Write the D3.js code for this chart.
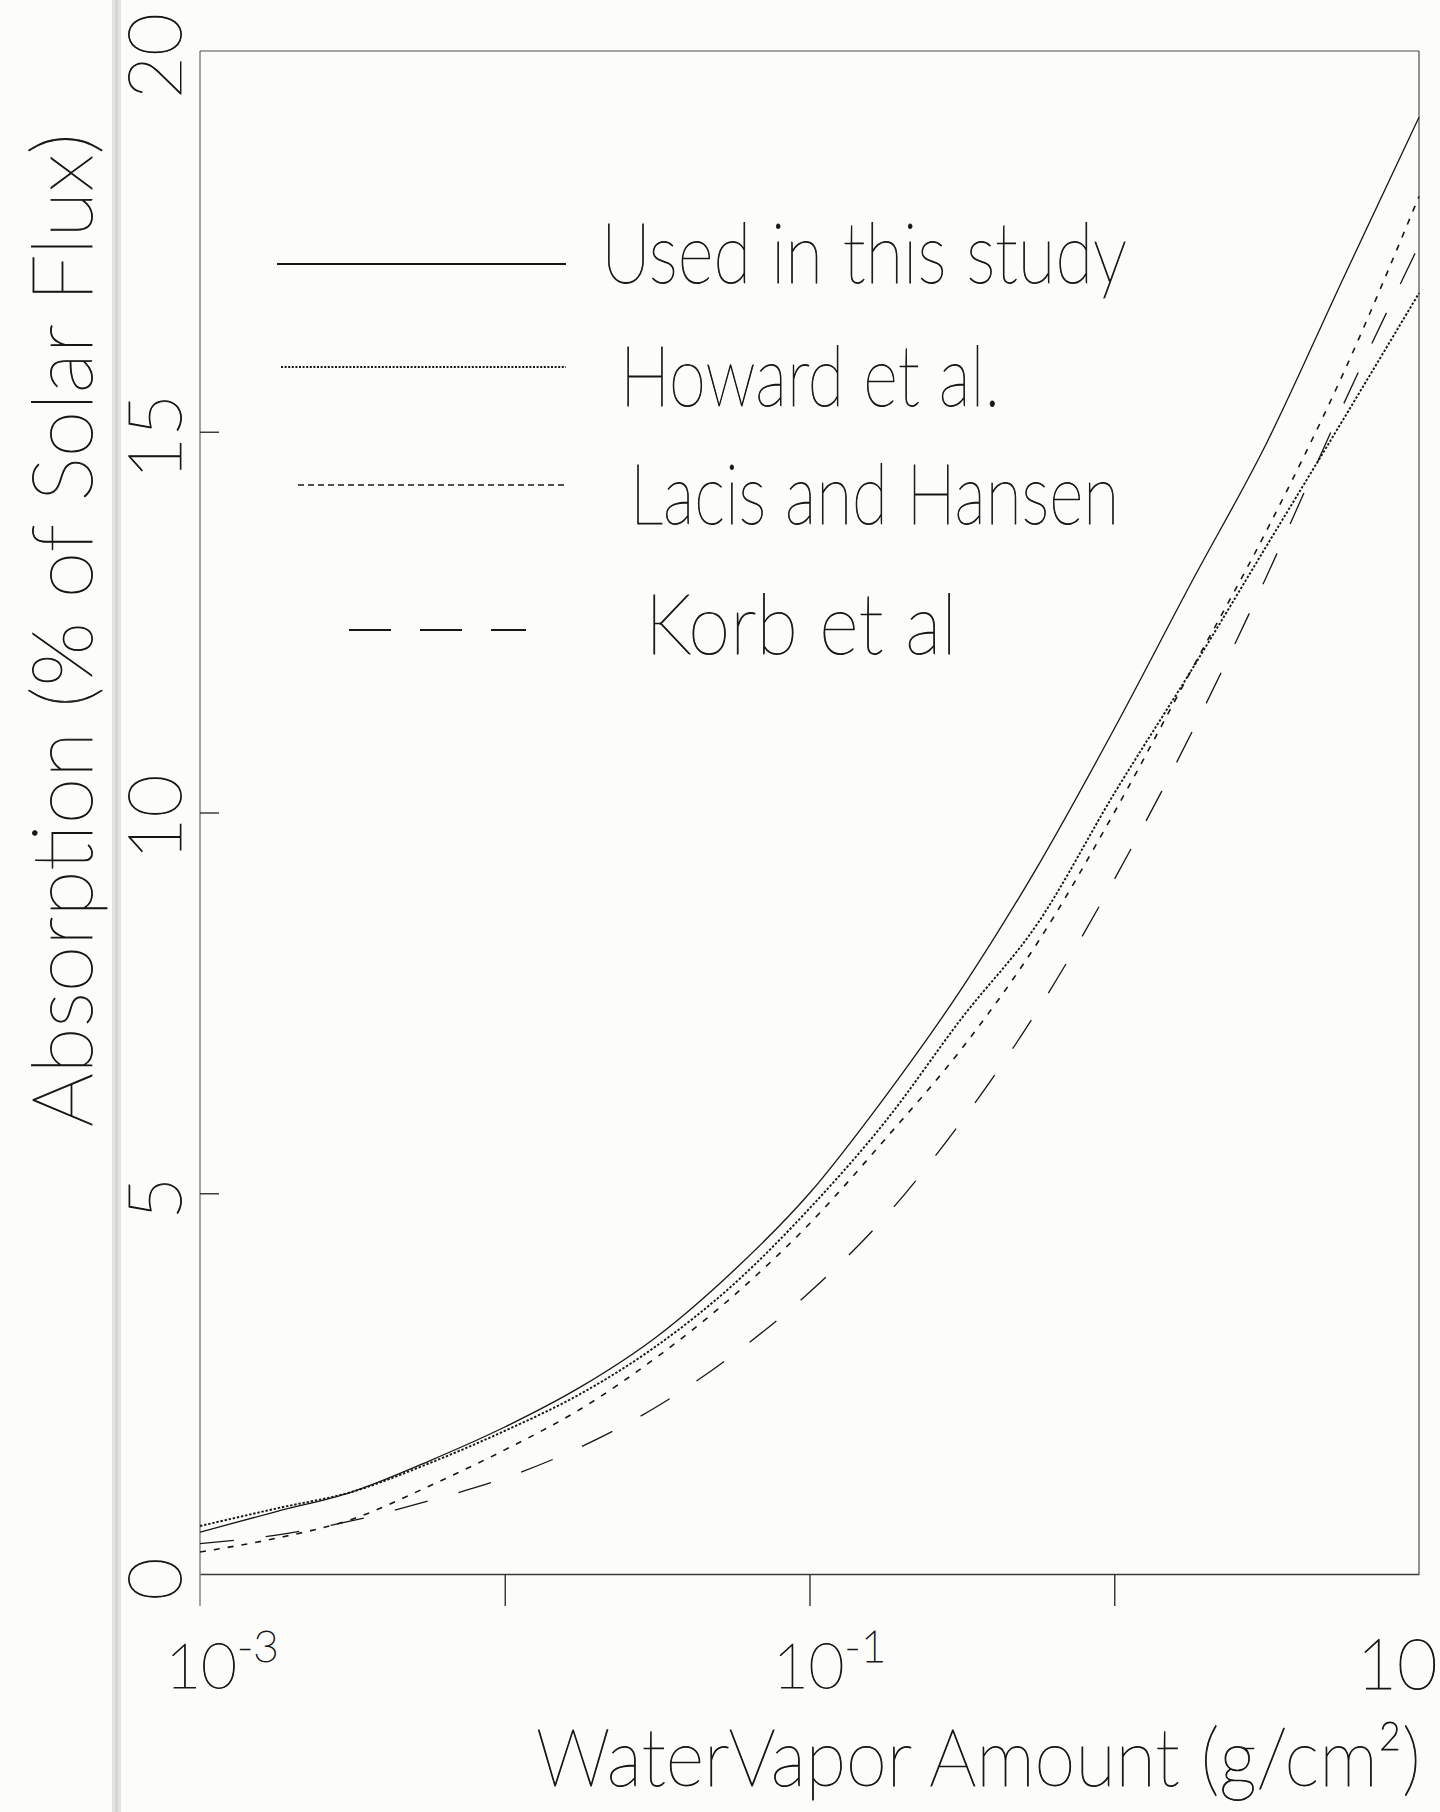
<!DOCTYPE html>
<html>
<head>
<meta charset="utf-8">
<script src="https://cdn.jsdelivr.net/npm/d3@7"></script>
<style>
  html, body { margin: 0; padding: 0; background: #fcfcfa; }
  svg { display: block; }
</style>
</head>
<body>
<svg id="chart" width="1440" height="1812"></svg>
<script>
// Water vapour path (g/cm^2), sampled every quarter decade
const waterVapor = [0.001, 0.00178, 0.00316, 0.00562, 0.01, 0.0178, 0.0316, 0.0562,
                    0.1, 0.178, 0.316, 0.562, 1, 1.78, 3.16, 5.62, 10];

// Absorption (% of solar flux) for each parameterisation
const usedInThisStudy = [0.55, 0.82, 1.08, 1.48, 1.93, 2.46, 3.12, 3.98, 5.0, 6.28, 7.69, 9.3, 11.1, 13.0, 14.85, 17.0, 19.13];
const howardEtAl      = [0.63, 0.86, 1.08, 1.45, 1.88, 2.37, 3.0, 3.8, 4.8, 5.95, 7.3, 8.55, 10.25, 11.85, 13.5, 15.15, 16.82];
const lacisHansen     = [0.29, 0.47, 0.72, 1.15, 1.63, 2.17, 2.85, 3.65, 4.6, 5.72, 6.9, 8.3, 10.0, 11.85, 13.7, 15.75, 18.09];
const korbEtAl        = [0.40, 0.51, 0.70, 0.96, 1.26, 1.67, 2.2, 2.88, 3.7, 4.7, 5.95, 7.41, 9.12, 11.02, 13.1, 15.34, 17.45];

const seriesNames = ["Used in this study", "Howard et al.", "Lacis and Hansen", "Korb et al"];
const seriesValues = [usedInThisStudy, howardEtAl, lacisHansen, korbEtAl];

const yTickValues = [0, 5, 10, 15, 20];
const xTickValues = [0.01, 0.1, 1];
const xLabelValues = [0.001, 0.1, 10];
const xLabelBases = ["10", "10", "10"];
const xLabelExponents = ["-3", "-1", ""];

const yTitle = "Absorption (% of Solar Flux)";
const xTitle = "WaterVapor Amount (g/cm\u00B2)";

// ---- layout ----
const W = 1440, H = 1812;
const plot = { left: 200, right: 1419, top: 51, bottom: 1574 };
const ink = "#161616";
const hand = "Lato, 'DejaVu Sans', sans-serif";

const svg = d3.select("#chart");

svg.append("rect").attr("width", W).attr("height", H).attr("fill", "#fcfcfa");
// binding fold on the scanned page
svg.append("rect").attr("x", 112).attr("y", 0).attr("width", 9).attr("height", H)
   .attr("fill", "#e3e3e1");
svg.append("rect").attr("x", 115).attr("y", 0).attr("width", 3).attr("height", H)
   .attr("fill", "#d6d6d4");

const x = d3.scaleLog().domain([1e-3, 10]).range([plot.left, plot.right]);
const y = d3.scaleLinear().domain([0, 20]).range([plot.bottom, plot.top]);

// pen-drawn lettering: thin face with a light outline
function pen(sel, size) {
  return sel.attr("font-family", hand).attr("font-weight", 200).attr("font-size", size)
    .attr("fill", ink).attr("stroke", ink).attr("stroke-width", 0.9);
}

// narrow handwriting: squeeze a text horizontally to a given run length
function squeeze(sel, placement, runLength) {
  sel.each(function (d, i) {
    const node = this;
    const natural = node.getComputedTextLength();
    const s = runLength(d, i) / natural;
    node.setAttribute("transform", `${placement(d, i)} scale(${s},1)`);
  });
  return sel;
}

// ---- frame ----
const frame = svg.append("g").attr("stroke", "#4a4a4a").attr("stroke-width", 1.2).attr("fill", "none");
frame.append("line").attr("x1", plot.left).attr("x2", plot.right).attr("y1", plot.top).attr("y2", plot.top);
frame.append("line").attr("x1", plot.right).attr("x2", plot.right).attr("y1", plot.top).attr("y2", plot.bottom);
frame.append("line").attr("x1", plot.left).attr("x2", plot.left).attr("y1", plot.top).attr("y2", plot.bottom + 32)
     .attr("stroke-width", 1);

// ---- axes ----
const xAxis = d3.axisBottom(x).tickValues(xTickValues).tickFormat("").tickSizeInner(32).tickSizeOuter(0);
const gx = svg.append("g").attr("transform", `translate(0,${plot.bottom})`).call(xAxis);
gx.select(".domain").attr("stroke", "#3a3a3a").attr("stroke-width", 1.6);
gx.selectAll(".tick line").attr("stroke", "#333").attr("stroke-width", 1.4);

const yAxis = d3.axisLeft(y).tickValues(yTickValues.filter(v => v > 0 && v < 20)).tickFormat("")
  .tickSizeInner(-19).tickSizeOuter(0);
const gy = svg.append("g").attr("transform", `translate(${plot.left},0)`).call(yAxis);
gy.select(".domain").remove();
gy.selectAll(".tick line").attr("stroke", "#333").attr("stroke-width", 1.4);

// y tick labels, written sideways
pen(svg.append("g").selectAll("text").data(yTickValues).join("text"), 74)
  .attr("transform", d => `translate(181,${y(d) + 5}) rotate(-90)`)
  .attr("text-anchor", "middle")
  .text(d => d);

// x tick labels (powers of ten)
const xLabelShift = [22, 20, -22];
const xl = pen(svg.append("g").selectAll("text").data(xLabelValues).join("text"), 62)
  .attr("x", (d, i) => x(d) + xLabelShift[i])
  .attr("y", (d, i) => i === 2 ? 1689 : 1688)
  .attr("text-anchor", "middle")
  .attr("font-size", (d, i) => i === 2 ? 70 : 62);
xl.append("tspan").text((d, i) => xLabelBases[i]);
xl.append("tspan").attr("dy", -26).attr("font-size", 44).text((d, i) => xLabelExponents[i]);

// axis titles
squeeze(
  pen(svg.append("text"), 84).attr("text-anchor", "middle").text(yTitle),
  () => "translate(92,630) rotate(-90)", () => 994);

squeeze(
  pen(svg.append("text"), 80).text(xTitle),
  () => "translate(536,1786)", () => 885);

// ---- curves ----
const styles = [
  { dash: null,      width: 1.3 },
  { dash: "2.4,1.8", width: 1.9 },
  { dash: "6,8",     width: 1.6 },
  { dash: "34,32",   width: 1.3 }
];

const line = d3.line()
  .x(d => x(d[0]))
  .y(d => y(d[1]))
  .curve(d3.curveMonotoneX);

svg.append("g").selectAll("path").data(seriesValues).join("path")
  .attr("d", vals => line(waterVapor.map((w, i) => [w, vals[i]])))
  .attr("fill", "none")
  .attr("stroke", ink)
  .attr("stroke-width", (d, i) => styles[i].width)
  .attr("stroke-dasharray", (d, i) => styles[i].dash);

// ---- legend ----
const legendRows = [
  { x1: 277, x2: 566, ly: 264, tx: 601, ty: 283, len: 526, dash: null,    w: 2.2 },
  { x1: 281, x2: 566, ly: 367, tx: 620, ty: 406, len: 380, dash: "2,1.6", w: 1.8 },
  { x1: 298, x2: 566, ly: 485, tx: 630, ty: 524, len: 489, dash: "6,4",   w: 1.7 },
  { x1: 349, x2: 526, ly: 630, tx: 645, ty: 654, len: 312, dash: "42,29", w: 2.0 }
];
const lg = svg.append("g").selectAll("g").data(seriesNames).join("g");
lg.append("line")
  .attr("x1", (d, i) => legendRows[i].x1).attr("x2", (d, i) => legendRows[i].x2)
  .attr("y1", (d, i) => legendRows[i].ly).attr("y2", (d, i) => legendRows[i].ly)
  .attr("stroke", ink)
  .attr("stroke-width", (d, i) => legendRows[i].w)
  .attr("stroke-dasharray", (d, i) => legendRows[i].dash);
squeeze(
  pen(lg.append("text"), 84).text(d => d),
  (d, i) => `translate(${legendRows[i].tx},${legendRows[i].ty})`,
  (d, i) => legendRows[i].len);
</script>
</body>
</html>
